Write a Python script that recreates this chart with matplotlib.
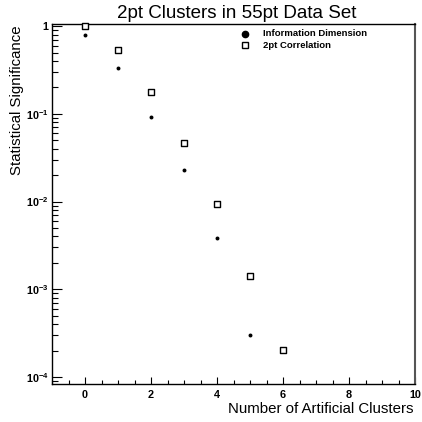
import matplotlib
matplotlib.use("Agg")
import matplotlib.pyplot as plt
from matplotlib.ticker import LogLocator, MultipleLocator, FixedLocator

plt.rcParams['font.family'] = ['Liberation Sans', 'DejaVu Sans']
plt.rcParams['mathtext.fontset'] = 'custom'
plt.rcParams['mathtext.rm'] = 'Liberation Sans:bold'
plt.rcParams['mathtext.bf'] = 'Liberation Sans:bold'

n_info = [0, 1, 2, 3, 4, 5]
sig_info = [0.80, 0.335, 0.092, 0.0228, 0.00385, 0.00030]
n_corr = [0, 1, 2, 3, 4, 5, 6]
sig_corr = [1.0, 0.54, 0.18, 0.046, 0.0093, 0.00141, 0.000204]

title = "2pt Clusters in 55pt Data Set"
xlabel = "Number of Artificial Clusters"
ylabel = "Statistical Significance"
labels = ["Information Dimension", "2pt Correlation"]
xticks = [0, 2, 4, 6, 8, 10]
yticks = [1e-4, 1e-3, 1e-2, 1e-1, 1]
ytick_labels = [r'$10^{-4}$', r'$10^{-3}$', r'$10^{-2}$', r'$10^{-1}$', '1']

fig = plt.figure(figsize=(4.22, 4.22), dpi=100)
W = H = 422
ax = fig.add_axes([52/W, 1 - 384/H, (415-52)/W, (384-24)/H])

ax.scatter(n_info, sig_info, s=8, c='black', marker='o', linewidths=0, clip_on=False, zorder=3)
ax.scatter(n_corr, sig_corr, s=13, facecolors='white', edgecolors='black', marker='s', linewidths=1.0, clip_on=False, zorder=3)

ax.set_yscale('log')
ax.set_xlim(-1, 10)
ax.set_ylim(8.3e-5, 1.06)

ax.xaxis.set_minor_locator(MultipleLocator(0.5))
ax.yaxis.set_major_locator(FixedLocator(yticks))
ax.yaxis.set_minor_locator(LogLocator(base=10, subs=range(2, 10)))
ax.set_yticklabels(ytick_labels)
ax.set_xticks(xticks)
ax.set_xticklabels([str(v) for v in xticks])

ax.tick_params(axis='both', which='both', direction='in', top=False, right=False, labelsize=7.8, width=0.8)
ax.tick_params(axis='y', which='major', length=7)
ax.tick_params(axis='y', which='minor', length=4)
ax.tick_params(axis='x', which='major', length=5)
ax.tick_params(axis='x', which='minor', length=3)
ax.tick_params(axis='x', pad=4.5)
ax.tick_params(axis='y', pad=2.5)
for lab in ax.get_xticklabels() + ax.get_yticklabels():
    lab.set_fontweight('bold')

for sp in ax.spines.values():
    sp.set_linewidth(1.0)
ax.spines['right'].set_color('#555555')
ax.spines['right'].set_linewidth(1.5)

fig.text(237/W, 1 - 13/H, title, ha='center', va='center', fontsize=13.5)
fig.text(413/W, 1 - 413/H, xlabel, ha='right', va='baseline', fontsize=10.8)
fig.text(17/W, 1 - 25/H, ylabel, ha='center', va='top', rotation=90, fontsize=10.8)

# legend
fig.add_artist(plt.Line2D([245/W], [1 - 34/H], marker='o', color='black', markersize=4.5, linestyle='none'))
fig.add_artist(plt.Line2D([245/W], [1 - 45/H], marker='s', markerfacecolor='white', markeredgecolor='black', markersize=5, markeredgewidth=1.0, linestyle='none'))
fig.text(263/W, 1 - 34/H, labels[0], ha='left', va='center', fontsize=6.8, fontweight='bold')
fig.text(263/W, 1 - 45/H, labels[1], ha='left', va='center', fontsize=6.8, fontweight='bold')

fig.savefig('out.png', dpi=100)
